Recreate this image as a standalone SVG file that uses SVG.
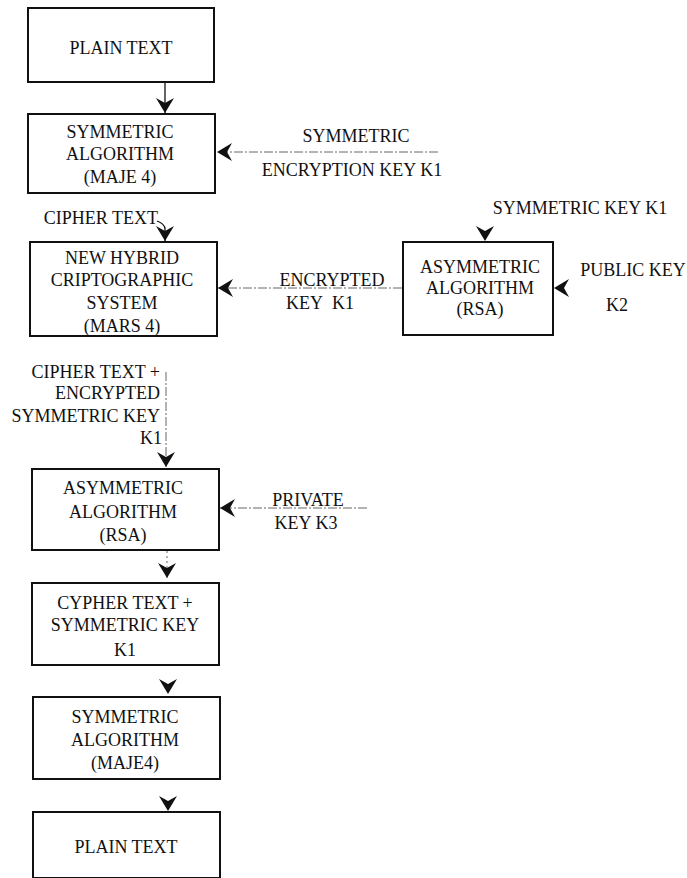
<svg xmlns="http://www.w3.org/2000/svg" width="687" height="878" viewBox="0 0 687 878">
<style>
.box{fill:#fff;stroke:#111;stroke-width:2}
text{font-family:"Liberation Serif","Times New Roman",serif;font-size:18px;fill:#111}
.c{text-anchor:middle}
.e{text-anchor:end}
.solid{stroke:#111;stroke-width:1.3;fill:none}
.nostem{stroke:none;fill:none}
.dash{stroke:#666;stroke-width:1;fill:none;stroke-dasharray:9 2 2 2}
.dot{stroke:#666;stroke-width:1;fill:none;stroke-dasharray:2 3}
</style>
<defs>
<marker id="ah" viewBox="0 0 15 18" refX="15" refY="9" markerWidth="15" markerHeight="18" markerUnits="userSpaceOnUse" orient="auto">
<path d="M0,0 L15,9 L0,18 L5,9 Z" fill="#111"/>
</marker>
</defs>
<rect width="687" height="878" fill="#fff"/>
<g id="connectors">
<line class="solid" x1="165" y1="82" x2="165" y2="113" marker-end="url(#ah)"/>
<line class="dash" x1="438" y1="152" x2="217" y2="152" marker-end="url(#ah)"/>
<path class="solid" d="M157,221 Q165,224 165,229 L165,241" marker-end="url(#ah)"/>
<line class="nostem" x1="485" y1="226" x2="485" y2="241" marker-end="url(#ah)"/>
<line class="nostem" x1="570" y1="288" x2="554" y2="288" marker-end="url(#ah)"/>
<line class="dash" x1="402" y1="288" x2="218" y2="288" marker-end="url(#ah)"/>
<line class="dash" x1="166" y1="372" x2="166" y2="467" marker-end="url(#ah)"/>
<line class="dash" x1="367" y1="508" x2="220" y2="508" marker-end="url(#ah)"/>
<line class="dot" x1="167" y1="551" x2="167" y2="578" marker-end="url(#ah)"/>
<line class="nostem" x1="168" y1="678" x2="168" y2="694" marker-end="url(#ah)"/>
<line class="nostem" x1="168" y1="795" x2="168" y2="811" marker-end="url(#ah)"/>
</g>
<g id="plain1"><rect class="box" x="28" y="8" width="186" height="74"/><text class="c" x="121" y="54">PLAIN TEXT</text></g>
<g id="sym1"><rect class="box" x="28" y="114" width="187" height="79"/>
<text class="c" x="120" y="138">SYMMETRIC</text><text class="c" x="120" y="160">ALGORITHM</text><text class="c" x="120" y="183">(MAJE 4)</text></g>
<g id="hybrid"><rect class="box" x="30" y="242" width="187" height="94"/>
<text class="c" x="122" y="264">NEW HYBRID</text><text class="c" x="122" y="286">CRIPTOGRAPHIC</text><text class="c" x="122" y="309">SYSTEM</text><text class="c" x="122" y="332">(MARS 4)</text></g>
<g id="asym1"><rect class="box" x="403" y="242" width="150" height="93"/>
<text class="c" x="480" y="273">ASYMMETRIC</text><text class="c" x="480" y="294">ALGORITHM</text><text class="c" x="480" y="315">(RSA)</text></g>
<g id="asym2"><rect class="box" x="32" y="469" width="187" height="81"/>
<text class="c" x="123" y="494">ASYMMETRIC</text><text class="c" x="123" y="518">ALGORITHM</text><text class="c" x="123" y="541">(RSA)</text></g>
<g id="cypher"><rect class="box" x="32" y="583" width="187" height="82"/>
<text class="c" x="125" y="609">CYPHER TEXT +</text><text class="c" x="125" y="631">SYMMETRIC KEY</text><text class="c" x="125" y="656">K1</text></g>
<g id="sym2"><rect class="box" x="33" y="697" width="187" height="82"/>
<text class="c" x="125" y="723">SYMMETRIC</text><text class="c" x="125" y="746">ALGORITHM</text><text class="c" x="125" y="769">(MAJE4)</text></g>
<g id="plain2"><rect class="box" x="33" y="812" width="187" height="66"/><text class="c" x="126" y="853">PLAIN TEXT</text></g>
<g id="labels">
<text class="c" x="356" y="142">SYMMETRIC</text>
<text class="c" x="352" y="176">ENCRYPTION KEY K1</text>
<text class="e" x="158" y="224">CIPHER TEXT</text>
<text class="c" x="580" y="214">SYMMETRIC KEY K1</text>
<text class="c" x="633" y="276">PUBLIC KEY</text>
<text class="c" x="617" y="311">K2</text>
<text class="c" x="332" y="286">ENCRYPTED</text>
<text class="c" x="320" y="309">KEY&#160; K1</text>
<text class="e" x="160" y="378">CIPHER TEXT +</text>
<text class="e" x="160" y="399">ENCRYPTED</text>
<text class="e" x="160" y="422">SYMMETRIC KEY</text>
<text class="e" x="162" y="444">K1</text>
<text class="c" x="308" y="506">PRIVATE</text>
<text class="c" x="306" y="529">KEY K3</text>
</g>
</svg>
